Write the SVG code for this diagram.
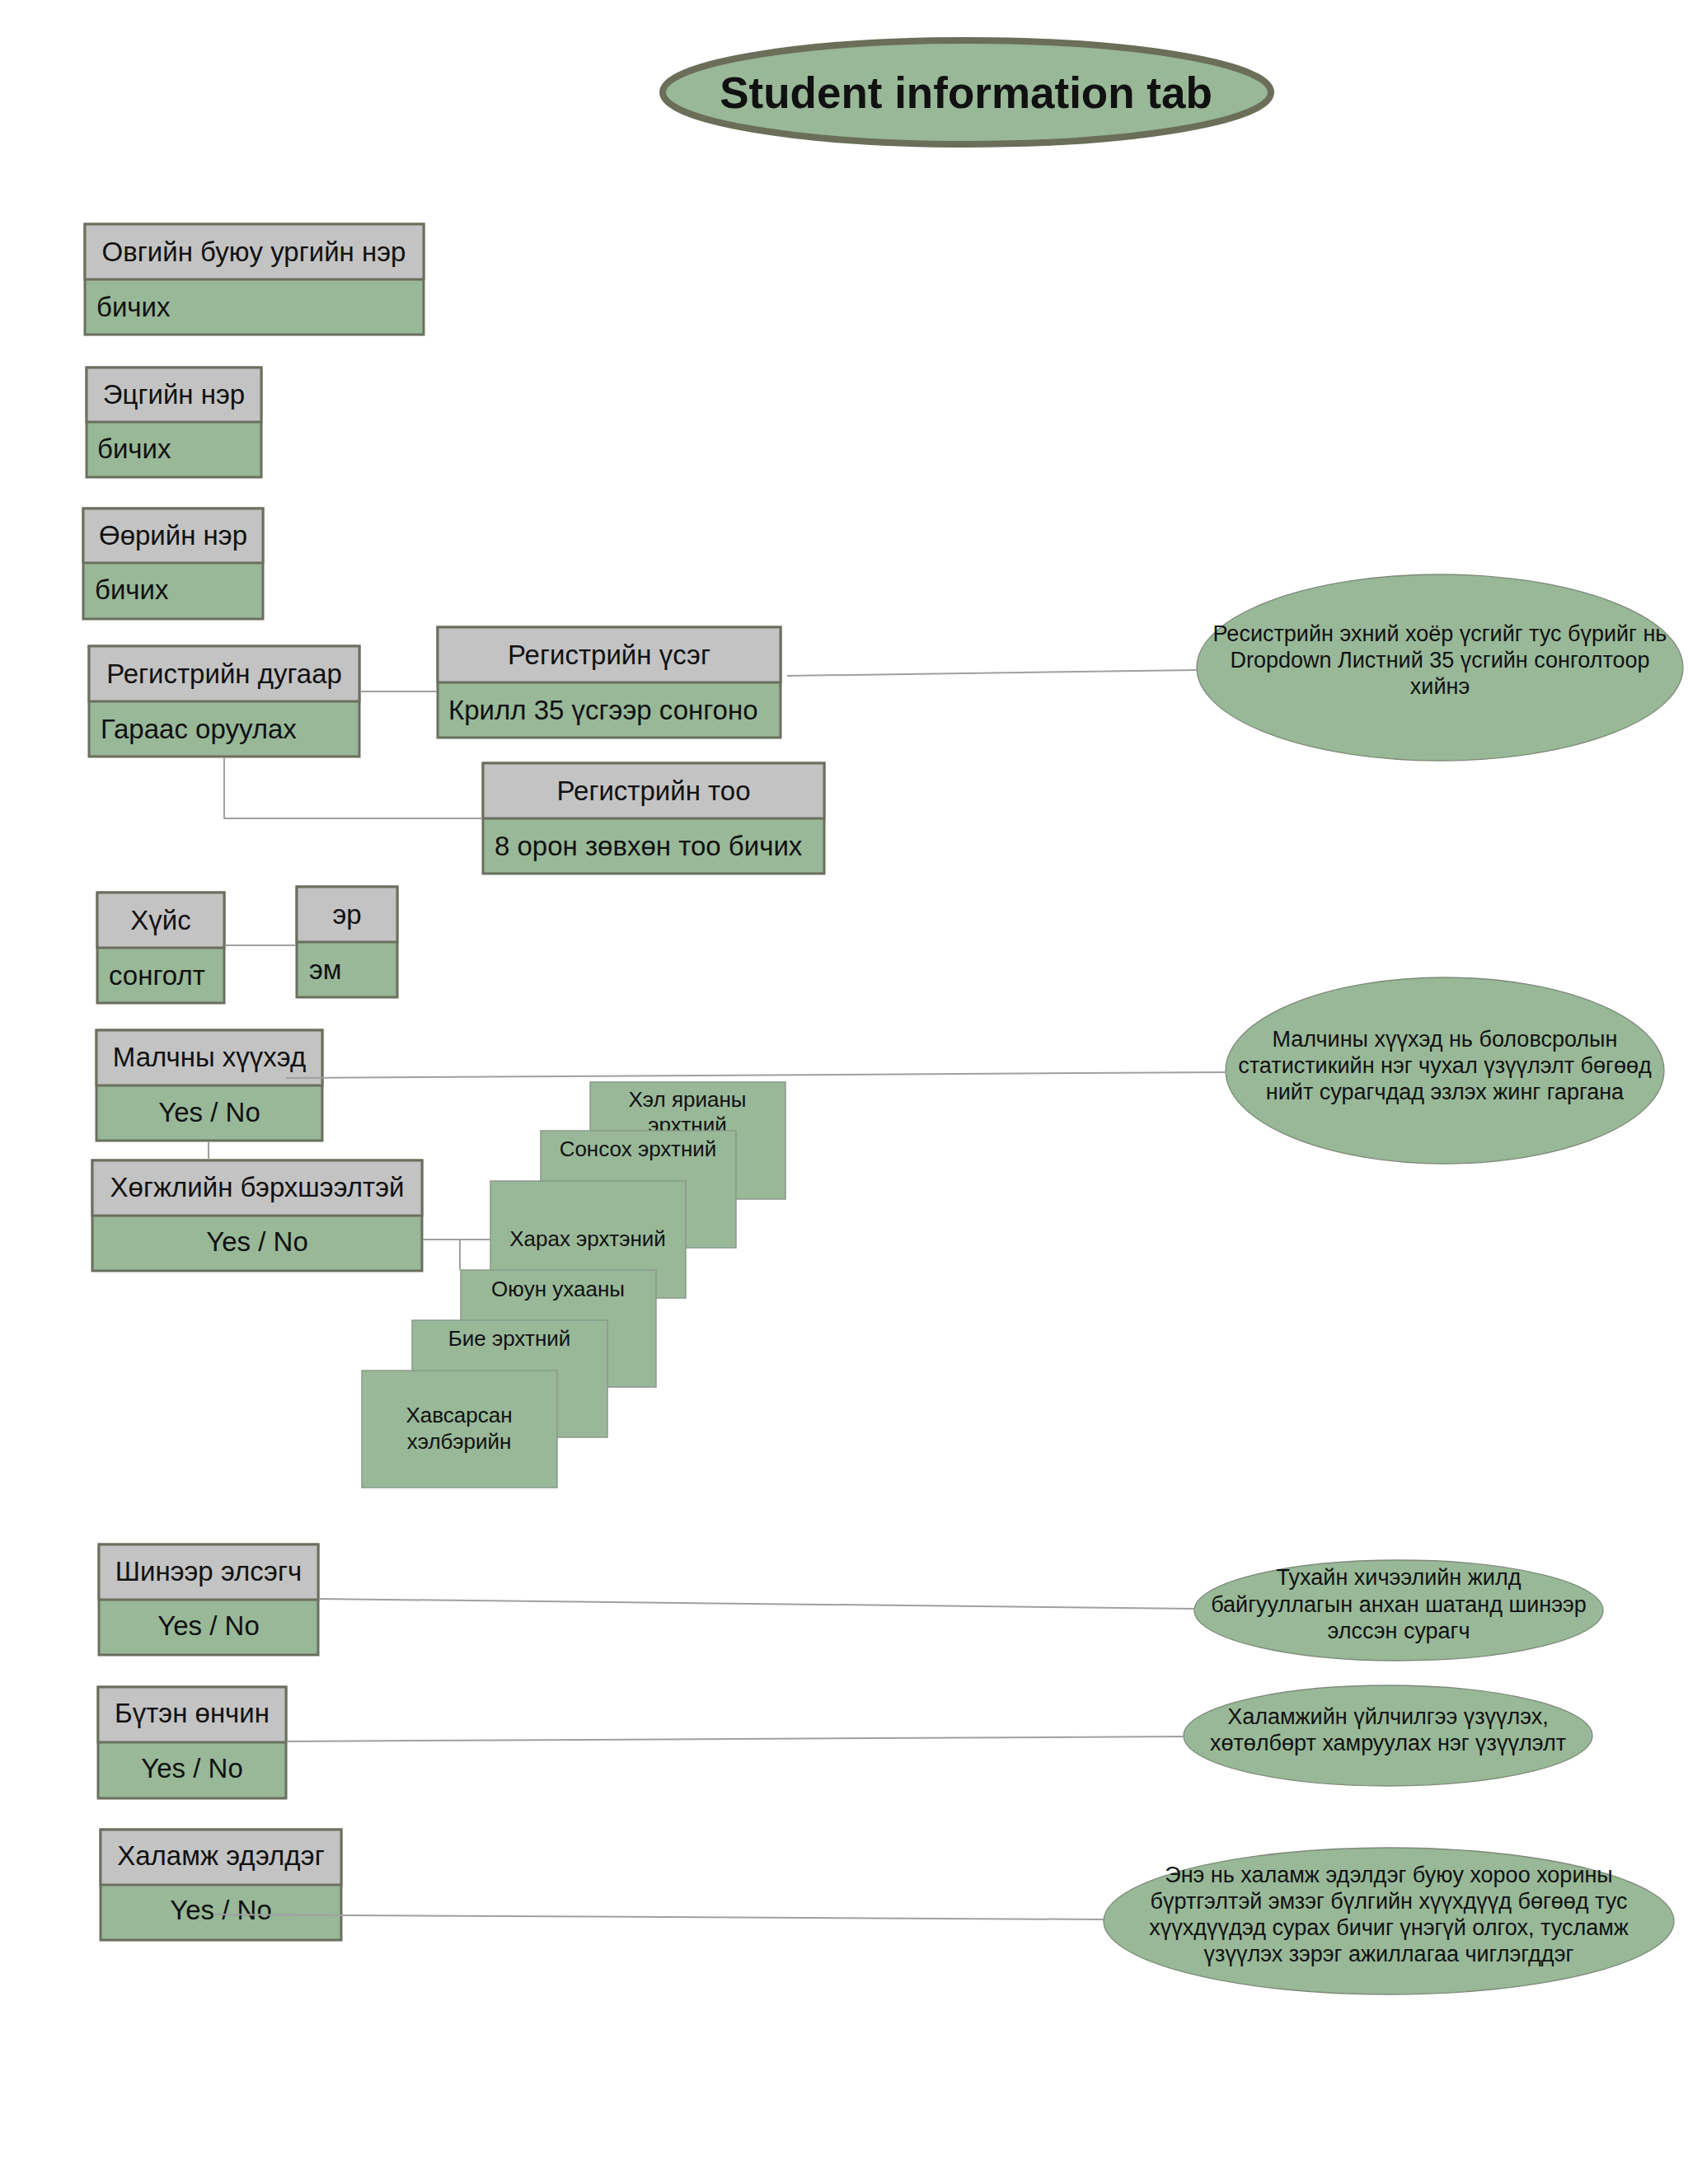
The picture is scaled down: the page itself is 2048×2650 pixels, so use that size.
<svg xmlns="http://www.w3.org/2000/svg" width="2048" height="2650" viewBox="0 0 2048 2650">
<style>
  .hd { fill: #c3c3c3; stroke: #6b6f5e; stroke-width: 3; }
  .bd { fill: #98b898; stroke: #6b6f5e; stroke-width: 3; }
  .st { fill: #98b898; stroke: #8a998a; stroke-width: 1.5; }
  .el { fill: #98b898; stroke: #7d8a78; stroke-width: 1.3; }
  .cn { fill: none; stroke: #a0a0a0; stroke-width: 2; }
  text { font-family: "Liberation Sans", Arial, sans-serif; fill: #111; }
  .t { font-size: 33px; }
  .c { text-anchor: middle; }
  .s { font-size: 26px; text-anchor: middle; }
  .e { font-size: 27px; text-anchor: middle; }
</style>
<rect x="0" y="0" width="2048" height="2650" fill="#ffffff"/>

<g id="title">
  <ellipse cx="1173" cy="112" rx="369" ry="63" fill="#98b898" stroke="#6b6e58" stroke-width="8"/>
  <text x="1172" y="131" text-anchor="middle" font-size="53" font-weight="bold">Student information tab</text>
</g>

<g id="n-ovog">
  <rect class="bd" x="103" y="272" width="411" height="134"/>
  <rect class="hd" x="103" y="272" width="411" height="67"/>
  <text class="t c" x="308" y="317">Овгийн буюу ургийн нэр</text>
  <text class="t" x="117" y="384">бичих</text>
</g>

<g id="n-etsgiin">
  <rect class="bd" x="105" y="446" width="212" height="133"/>
  <rect class="hd" x="105" y="446" width="212" height="66"/>
  <text class="t c" x="211" y="490">Эцгийн нэр</text>
  <text class="t" x="118" y="556">бичих</text>
</g>

<g id="n-ooriin">
  <rect class="bd" x="101" y="617" width="218" height="134"/>
  <rect class="hd" x="101" y="617" width="218" height="66"/>
  <text class="t c" x="210" y="661">Өөрийн нэр</text>
  <text class="t" x="115" y="727">бичих</text>
</g>

<g id="n-reg-dugaar">
  <rect class="bd" x="108" y="784" width="328" height="134"/>
  <rect class="hd" x="108" y="784" width="328" height="67"/>
  <text class="t c" x="272" y="829">Регистрийн дугаар</text>
  <text class="t" x="122" y="896">Гараас оруулах</text>
</g>

<g id="n-reg-useg">
  <rect class="bd" x="531" y="761" width="416" height="134"/>
  <rect class="hd" x="531" y="761" width="416" height="67"/>
  <text class="t c" x="739" y="806">Регистрийн үсэг</text>
  <text class="t" x="544" y="873">Крилл 35 үсгээр сонгоно</text>
</g>

<g id="n-reg-too">
  <rect class="bd" x="586" y="926" width="414" height="134"/>
  <rect class="hd" x="586" y="926" width="414" height="67"/>
  <text class="t c" x="793" y="971">Регистрийн тоо</text>
  <text class="t" x="600" y="1038">8 орон зөвхөн тоо бичих</text>
</g>

<g id="n-huis">
  <rect class="bd" x="118" y="1083" width="154" height="134"/>
  <rect class="hd" x="118" y="1083" width="154" height="67"/>
  <text class="t c" x="195" y="1128">Хүйс</text>
  <text class="t" x="132" y="1195">сонголт</text>
</g>

<g id="n-er-em">
  <rect class="bd" x="360" y="1076" width="122" height="134"/>
  <rect class="hd" x="360" y="1076" width="122" height="67"/>
  <text class="t c" x="421" y="1121">эр</text>
  <text class="t" x="375" y="1188">эм</text>
</g>

<g id="n-malchin">
  <rect class="bd" x="117" y="1250" width="274" height="134"/>
  <rect class="hd" x="117" y="1250" width="274" height="67"/>
  <text class="t c" x="254" y="1294">Малчны хүүхэд</text>
  <text class="t c" x="254" y="1361">Yes / No</text>
</g>

<g id="n-hogjil">
  <rect class="bd" x="112" y="1408" width="400" height="134"/>
  <rect class="hd" x="112" y="1408" width="400" height="67"/>
  <text class="t c" x="312" y="1452">Хөгжлийн бэрхшээлтэй</text>
  <text class="t c" x="312" y="1518">Yes / No</text>
</g>

<g id="n-hel">
  <rect class="st" x="716" y="1313" width="237" height="142"/>
  <text class="s" x="834" y="1343">Хэл ярианы</text>
  <text class="s" x="834" y="1374">эрхтний</text>
</g>
<g id="n-sonsoh">
  <rect class="st" x="656" y="1372" width="237" height="142"/>
  <text class="s" x="774" y="1403">Сонсох эрхтний</text>
</g>
<g id="n-harah">
  <rect class="st" x="595" y="1433" width="237" height="142"/>
  <text class="s" x="713" y="1512">Харах эрхтэний</text>
</g>
<g id="n-oyun">
  <rect class="st" x="559" y="1541" width="237" height="142"/>
  <text class="s" x="677" y="1573">Оюун ухааны</text>
</g>
<g id="n-bie">
  <rect class="st" x="500" y="1602" width="237" height="142"/>
  <text class="s" x="618" y="1633">Бие эрхтний</text>
</g>
<g id="n-havsarsan">
  <rect class="st" x="439" y="1663" width="237" height="142"/>
  <text class="s" x="557" y="1726">Хавсарсан</text>
  <text class="s" x="557" y="1758">хэлбэрийн</text>
</g>

<g id="n-shineer">
  <rect class="bd" x="120" y="1874" width="266" height="134"/>
  <rect class="hd" x="120" y="1874" width="266" height="67"/>
  <text class="t c" x="253" y="1918">Шинээр элсэгч</text>
  <text class="t c" x="253" y="1984">Yes / No</text>
</g>

<g id="n-butten">
  <rect class="bd" x="119" y="2047" width="228" height="135"/>
  <rect class="hd" x="119" y="2047" width="228" height="67"/>
  <text class="t c" x="233" y="2090">Бүтэн өнчин</text>
  <text class="t c" x="233" y="2157">Yes / No</text>
</g>

<g id="n-halamj">
  <rect class="bd" x="122" y="2220" width="292" height="134"/>
  <rect class="hd" x="122" y="2220" width="292" height="67"/>
  <text class="t c" x="268" y="2263">Халамж эдэлдэг</text>
  <text class="t c" x="268" y="2329">Yes / No</text>
</g>

<g id="e-registr">
  <ellipse class="el" cx="1747" cy="810" rx="295" ry="113"/>
  <text class="e" x="1747" y="778">Ресистрийн эхний хоёр үсгийг тус бүрийг нь</text>
  <text class="e" x="1747" y="810">Dropdown Листний 35 үсгийн сонголтоор</text>
  <text class="e" x="1747" y="842">хийнэ</text>
</g>

<g id="e-malchin">
  <ellipse class="el" cx="1753" cy="1299" rx="266" ry="113"/>
  <text class="e" x="1753" y="1270">Малчины хүүхэд нь боловсролын</text>
  <text class="e" x="1753" y="1302">статистикийн нэг чухал үзүүлэлт бөгөөд</text>
  <text class="e" x="1753" y="1334">нийт сурагчдад эзлэх жинг гаргана</text>
</g>

<g id="e-shineer">
  <ellipse class="el" cx="1697" cy="1954" rx="248" ry="61"/>
  <text class="e" x="1697" y="1923">Тухайн хичээлийн жилд</text>
  <text class="e" x="1697" y="1956">байгууллагын анхан шатанд шинээр</text>
  <text class="e" x="1697" y="1988">элссэн сурагч</text>
</g>

<g id="e-onchin">
  <ellipse class="el" cx="1684" cy="2106" rx="248" ry="61"/>
  <text class="e" x="1684" y="2092">Халамжийн үйлчилгээ үзүүлэх,</text>
  <text class="e" x="1684" y="2124">хөтөлбөрт хамруулах нэг үзүүлэлт</text>
</g>

<g id="e-halamj">
  <ellipse class="el" cx="1685" cy="2331" rx="346" ry="89"/>
  <text class="e" x="1685" y="2284">Энэ нь халамж эдэлдэг буюу хороо хорины</text>
  <text class="e" x="1685" y="2316">бүртгэлтэй эмзэг бүлгийн хүүхдүүд бөгөөд тус</text>
  <text class="e" x="1685" y="2348">хүүхдүүдэд сурах бичиг үнэгүй олгох, тусламж</text>
  <text class="e" x="1685" y="2380">үзүүлэх зэрэг ажиллагаа чиглэгддэг</text>
</g>

<g id="connectors">
  <line class="cn" x1="437" y1="839" x2="530" y2="839"/>
  <polyline class="cn" points="272,919 272,993 585,993"/>
  <line class="cn" x1="955" y1="820" x2="1452" y2="813"/>
  <line class="cn" x1="273" y1="1147" x2="359" y2="1147"/>
  <line class="cn" x1="347" y1="1308" x2="1488" y2="1301"/>
  <line class="cn" x1="253" y1="1385" x2="253" y2="1407"/>
  <line class="cn" x1="513" y1="1504" x2="595" y2="1504"/>
  <line class="cn" x1="558" y1="1504" x2="558" y2="1541"/>
  <line class="cn" x1="387" y1="1940" x2="1449" y2="1952"/>
  <line class="cn" x1="348" y1="2113" x2="1437" y2="2107"/>
  <line class="cn" x1="260" y1="2323" x2="1339" y2="2329"/>
</g>
</svg>
